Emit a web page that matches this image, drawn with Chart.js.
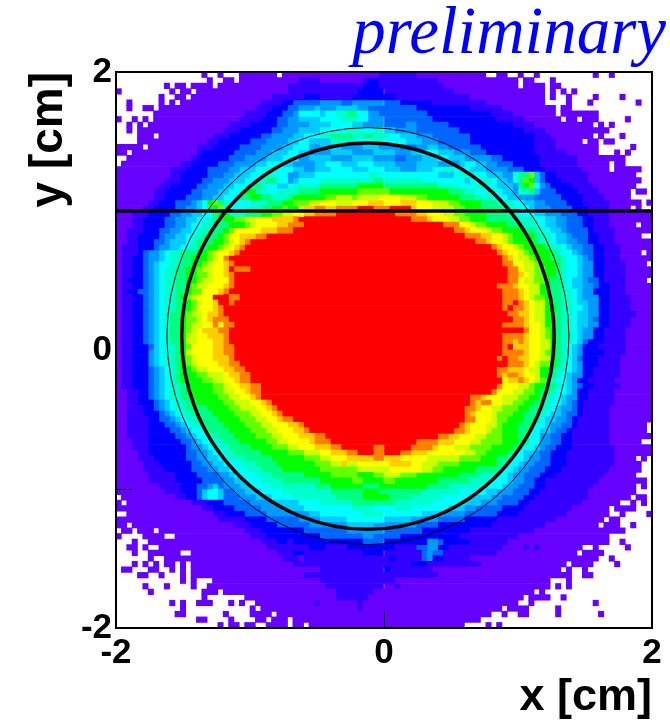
<!DOCTYPE html>
<html>
<head>
<meta charset="utf-8">
<style>
  html, body { margin: 0; padding: 0; background: #fff; }
  canvas { display: block; }
</style>
<script src="https://cdn.jsdelivr.net/npm/chart.js@4"></script>
</head>
<body>
<canvas id="beamChart" width="670" height="720"></canvas>
<script>
// colour level of each bin, w = empty bin
const levelNames = ['a','b','c','d','e','f','g','h','i','j','k','l','m','n','o','p'];
const levelColors = ['#6600ff','#3300ff','#0000ff','#0066ff','#0099ff','#00ccff','#00ffff','#00ffcc','#00ff80','#00ff00','#66ff00','#ccff00','#ffff00','#ffcc00','#ff8000','#ff0000'];

// one string per row of bins, top row first. letter + column where that level starts
const binRows = [
'w0a16w17a19w20a23w30a31b49a56w69a71w73a75w76a78w79a89w90a92w93',
'w0a17w18a20w22a23b34a38b46c47b49a60w75a76w78a81w82',
'w0a9w10a11w13a14w18a19b32c46b49a61w75a76w80a81w83',
'a0w1a10w11a12w14a15b32c45b50a63w80a81w82a83w84a85w86',
'w0a8w9a11w13a14b29c35b38c44b52a66w80a81w82a84w85a89w90a94w95',
'w0a2w3a8w9a10w11a12b27c31d33e38d42e44d50c53b59a69w80a84w85a88w89a97w98',
'w0a2w3a5w7a8b26c29d32e34f37e38f41e45d47c56b66a72w82a83w85',
'w0a7b24c28d31e33g34f38g39h41i43g45e47d49c58b70a74w82a83w90',
'a0w1a3w4a5w6a7b23c27d30e32f34g38h42g45e47d50c59b71a76w83a84w86a87w90a95w96',
'w0a2w3a4w5a6b21c25d30e32f36g40f44e46d50e54d56c62b74a78w89a90w91a92w93',
'w0a2w3a4b20c23d29e31f34g38h43g46h48f50e52d56c64b76a80w92',
'w0a4w7a8b18c21d27e29f33g35h38i40h44i46h48g51f53e56d59c66b78a81w89a90w91a94w95',
'w0a4b17c19d25e28f32g34f36h40g45h48g50f54e57d60c66b78a82w87a88w90a91w93',
'a0w5a6b15c18d23e27f31g33e36f38e42f46e49d53e56f58e60d62c68b78a82w90a96w97',
'a0w2a3b15c16d22e26f29g32f34e36f40e44f48e52f55g57f60e63d66c69b78a84w90a93w94a95w96',
'w0a2b14c15d21e24f28g31e34f36e40f44e48d52e54f57g60f62e65d70c72b79a86w95',
'w0a1b12c14d19e22f26g28f31e33f37g39f42g45f48e52f56e60f64g65f67e69d71c74b79a86w92a93w95',
'a0b10c13d17e21f23g26h28g30f33e35f37g40f44g47f50e53f56g59h61g63f66e69d73c76b80a87w92a93w98',
'a0b10c12d17e20f22g25h27g29e32f34g37h47g49f60g63h64g67f69e72g74i75k77f78d79c80b82a88w97',
'a0b9c12d16e18f21g24h26i28g30e32f33g34h38i48h50g57f65g66h68g70f71e73g74i75k76j77f78d79c80b83a88w98',
'a0b8c10d15e17f20g22h24i26h27g28f30g32h33i38j45i50h60g64h67g69f71e74i75j76k77g78e79d80c81b85a89w97',
'a0b7c9d14e16f19g21h23j24h26g28h30i34j38k45j51i62h65g67h69g71f72e74h75i77f78d79c82b86a90w96a97w99',
'a0b7c9d13e16f18g20h22i23j25i27h29i32j33k39l41k44l45m49l53k56j58i64h67g70f73e75d78c83b87a91w96',
'a0b6c8d11e14f15g16j17k18i19h20g21h25i28j31k33l36m38l41m44n47m50n53m56l59k62j64i68h71g74f76e78d80c84b87a92w98a99',
'a0b5c7d11e13f15g16i17j18k19h20g21h24i27j29k31j32l34n35o37n39o41p45o48p51n55m56l59k63j65i68h72g75f77e78d81c85b88a92w96a97w98',
'a0b3c6d10e12f14g16i18j19h21i24j27k29l31m33n35o37p41o52n56m58l61k63j65i69h73g75f78e80d83c86b88a92',
'a0b3c5d9e11f13g15h17i18j20k22l24m26n29o33p34o55n58m59l62k64j66i69h74g78f80e82d84c87b89a92',
'a0b3c5d9e11f13g14h16i18j21k24l25m26n30o32p35o61m64l66k67j69i73h76g79f80e82d84c87b89a92w97a98',
'a0b2c5d8e10f12g14h15i17j20k21m22n27o30p33o63n65m66l69k70j72i76h78g80f81e83d84c88b89a93',
'a0b2c4d8e9f11g13h14i16j19k20m21n23o26p28o65n68m70l72k73j74i78h79g81f82e84d85c88b90a93w98',
'a0b2c4d7e9f10g13h14i15j18k20l21m22n23o24p25o67n69m70l72k73j74i78h79g81f82e84d86c88b90a93',
'a0b1c4d7e8f10g12h13i15j17k19l20m21n22o23p24o70n71m72l74k75j76i80h81g83f84e85d87c89b91a94',
'a0b1c4d5e6f8g9h10i12j15k17l18m19n21o22p23o71n72m73l75k76j77i81h82g83f85e86d87c89b91a94w98a99',
'a0b1c3d5e6f8g9h10i12j14k17l18m19o20p21o72n73m74l75k77j78i81h83g84f86e87d88c89b91a94',
'a0b1c3d5e6f7g8h10i12j14k16l17m18n20o21p22o72m74l76k78j79i82h83g84f86e87c89b91a95w99',
'a0b1c3d5e6f7g8h9i11j13k15l16m18n20p21o22p25o73m75l76k78j80i82h83g84f86e87c89b91a95',
'a0b1c3d5e6f7g8h9i11j13k15l17m18n20o21p22o73n75m76l77k78j80i82h83g84f86e87c89b91a95',
'a0b1c2d5e6f7g8h9i11j13k15l16m18o21p22o73m75l76k78j80i81h83g84f85e87d88c90b91a95w99',
'a0b1c3d5e6f7g8h9i11j13k14l15m17n20o21p22o71n74m75l77j79i81h83g84f85e87d89c90b92a95',
'a0b1c2d4e6f7g8h9i11j13k14m16n19o20p21o72n75m76l77j79i81h83g85f86e87c89b92a95',
'a0b1c3d5e6f7g8h9i11j12k13l14m15n18p18o21p23o72n75m76l77k78j80i81h83g85f86e87c90b92a96',
'a0b1c3d5e6f7g8h9i11j13k14l15m16n18p19o21p22o72p74o75n76m77l78j80i81h83g85f86e88c90b92a96',
'a0b1c3d5e6f7g8h9i11j13k14m15n18o19p20o72p73o74n76m77l78j80i82h83g85f87e88c90b92a96',
'a0b1c3d5e6f7g8h9i10j12k13l14m16n17o19p20o73n75m77l78j80i81h83g85f86e88c90b92a97',
'a0b1c3d5e6f7g8h9i10j12k13l15m16n17o18p21o74n76m77l78j80i81h83g85f86e88d89c90b92a96',
'a0b1c3d5e6f7g8h9i10j12k13l14m16n18o18m19o20p22o72n76m77l79j80i81h83g85f86e88c90b92a96',
'a0b1c3d5e6f7g8h9i10j12k13l14m15n16o19p21o76m77l79k80j81i82h83g85f86e87c89b91a95',
'a0b1c3d5e6f7g8h9i10j12l13m15n17o20p21o72n76m77l79k80j81i82h83g85f86e87c89b91a95',
'a0b1c3d5e6f7g8h9i10j12l13m15n18o20p21o72n74o75n76m77l79j81i82h83g85f86d87c88b91a95',
'a0b1c3d6f7g8h9i11j12k13m14n18o20p22o72p73n74m77l79j81i82h83g84f85e86c87b90a95',
'a0b1c3d6e6f7g8h9i11j12l13m14n18o20p22o72n76m77l79k80j81i82h83g84f85e86c87b91a95',
'a0b1c3e6f7g8h9i11j12k13l14m15n18o21p22o71p72o73n75m77l79j81i82h83g84f85d86c87b90a94',
'a0b1c3e6f7g8h9i11j12k13l14m15n19o21p23o73n76m77l78k79j81i82h83g84f85e86c87b90a94',
'a0b1c3d6e7f8g9h10i11j12k14l15m17n20o22p24o71n73m76l77j79i81h82g84f85e86c87b89a94',
'a0b1c3d6e7f8g9h10i11j12k15l17m20n21o23p25o71n72o73n75m76l78j79i81h82g83f84e85c87b89a94',
'a0b1c3d6e7f8g9h10i11j12k16l18m20n22o23p25m72n73o75n76m77l78k79i80h81g82f84e85c86b88a93',
'a0b1c3d6e7f8g9h10i12j13k18l20m21n23o25p27o71m72l75k77j78i80h82g83f84e85d86c87b89a94',
'a0b2c4d6e7f8g9h10i12j13k18l20m22n24o25p27o70m71l74k76j78i79h81g82f84e85c86b88a93',
'a0b2c4d6e7f8g9h10i12j14k19l21m23n25o26p27o66n68m69l72k75j77i79h80g82f83e84c86b88a93',
'a0b2c4d7e8f9g10h11i13j15k20l22m25n27o28p29o66n67o68m70l72k74j76i78h80g81f83e84d85c86b87a93',
'a0b2c5d7e8f9g10h11i13j17k21l23m26n28o29p30o65n67m68l70k72j75i77h79g81f82e83d85c86b87a92',
'a0b2c5d8e9f10g11h12i14j18k22l25m27n29o30p31o65n66m67l70k71j74i76h78g80f81e83d84c86b87a92',
'a0b2c6d8e10f11g12h13i15j19k23l26m28n30o31p33o65m67l70k71j73i76g79f80e82d84c85b86a92',
'a0b2c6d9e11f12g13h14i16j20k24l27m29n32o34p35o64n65m66l69k71j72i75g78f80e81d83c85b86a92w99',
'a0b2c6d10e12f13g14h16i17j21k25l28m30n33o35p36o63n65m66l69k70j72i75h77g78f79e81d82c84b85a92w99',
'a0b2c6d11e13f14g15h17i19j22k26l29m31n34o37p39o60n62m64l67k69j72i75g77e79d81c83b85a92',
'a0b3c6d12e14f15g16h18i20j23k28l30m32n36o37p40o56n60m63l66k68j72i75g77e79d81c83b85a92w98',
'a0b3c6d13e14f16g17h19i21j25k29l32m34n37o40p42o48p50o55n59m60l63k66j70i74h75g76f78e79d80c82b85a93',
'a0b4c6d13e15f17g18h20i22j27k32l35m38n40o43p45o48p50o53n55m58l65k67j69i73h74g75f76e78d79c81b84a93',
'a0b4c7d13e15f17g19h21i24j29k35l38m40n43o48n50m53l58k64j68i71h73g74f76e77d79c81b84a93w97a98w99',
'a0b5c8d14e16f18g20h23i26j30k37l40n42l43m45n51m55l57k60j64i71h72g73f75e76d78c81b84a93w98',
'a0b5c9d14e17f19g21h24i27j31k38l45m51l57k59j61i67h71g72f74e75d77c80b83a92w98',
'a0b6c11d15e19f21g22h26i29j35k40j45k48l50k53j56i64h68g71f73e74d76c79b82a91w97',
'a0b6c11d16e20f22g24h27i31j38k44j46k50j52i60h66g70f73e74d76c78b80a90w99',
'a0b8c12d15e17f18d19e20f23g25h29i37j40i46j49i58h62g68f72e73d75c78b80a89w97a98w99',
'a0b9c12d15f16g17f19d20e22f24g27h31i40j46i49h57g64f69e71d74c77b79a88w97',
'w0a1b11c13d15f16g17f19d20e23f26g29h33i41j46i51h55g61f66e70d72c76b78a88w96a97w99',
'a0w1a2b14c17d20e25f29g34h38i44h52g59f65e68d71c75b77a87w94a96w97a98w99',
'a0b16c18d22e27f31g35h44g48h52g55f62e65d67c72b76a85w92a93w97',
'w0a2b18c20d24e28f36g38h46g50f57e61d65c71b75a84w92a94w95a99',
'a0b19c24d28e34f38g43f50e55d60c65b71a82w91a92w94',
'a0w2a3b22c25d30e36f43e48d56c60b70a80w90a91w94a96w97',
'w0a1w3a4w7a8b24c27d35e43d50c57b66a78w95',
'a0w1a5w9a11b25c28d38e46d48c53b64a75w92',
'w0a3w4a6b27c30b32c33d46c50e58d60c61b66a73w92a94w95',
'w0a2w4a5w6a8b28c36b39c43b52d56e58c60b62a72b76a77b78a79w87a89w90a95w96',
'w0a3w4a6w12a14b30c33b35c46b50d57e58d59b61a71w86a87w91',
'w0a6w7a9b31a34b35c51b52d57e58c59b61a66w90a92w93',
'w0a3w4a5w6a7w8a9w11a12w13a14b33c55b58a68w84a85w89a93w94',
'w0a1w3a6w8a10w11a12w13a14b38c50b51a59w83a84w85a87w88',
'w0a4w6a8w9a12w13a14b35a60w85a87w89',
'w0a12w13a14w15a18b38a52w81a84w85',
'w0a5w6a9w10a14w15a17b39a50b52a53w81a82w83a84w85',
'w0a6w7a16w19a20b41a48w78a79w80',
'w0a16w17a24b41a47w76a77w81a83w84',
'w0a10w11a12w13a15w18a21w22a23w24a26b37a38b45a46w75a77w78a89w90',
'w0a12w13a25w26a27b45a46w72a73w77a82w83',
'w0a11w13a20w21a25w29a30w70a72w73a75w77a82w83a90w91',
'w0a15w17a21w22a26w28a29w32a33w68',
'w0a19w20a21w23a24w26a28w32a33w35a36w65a69w70a71w72'
];

const binWidth = 0.04;
const axisMin = -2;
const axisMax = 2;
const axisStep = 2;
const cutLevel = [1, 1];          // horizontal line y = 1
const circleCenterX = -0.12;
const circleCenterY = 0.10;
const circleRadii = [1.39, 1.5];
const circleWidths = [3.5, 1];

const chartTitle = 'preliminary';
const xLabel = 'x [cm]';
const yLabel = 'y [cm]';

function parseRow(row) {
  const tokens = [...row.matchAll(/([a-pw])(\d+)/g)];
  return tokens.map((t, i) => ({
    level: t[1],
    from: +t[2],
    to: i + 1 < tokens.length ? +tokens[i + 1][2] : 100
  })).filter(r => r.level !== 'w' && r.to > r.from);
}

const parsedRows = binRows.map(parseRow);
const maxRuns = Math.max(...parsedRows.map(r => r.length));

// floating bars: the n-th dataset holds the n-th run of every row
const barSets = [];
for (let n = 0; n < maxRuns; n++) {
  barSets.push({
    type: 'bar',
    indexAxis: 'y',
    xAxisID: 'x',
    yAxisID: 'rows',
    order: 2,
    barPercentage: 1,
    categoryPercentage: 1,
    grouped: false,
    data: parsedRows.map(r => r[n] ? [axisMin + r[n].from * binWidth, axisMin + r[n].to * binWidth] : null),
    backgroundColor: parsedRows.map(r => r[n] ? levelColors[levelNames.indexOf(r[n].level)] : 'transparent')
  });
}

// the two fitted circles
const circlePlugin = {
  id: 'circles',
  afterDatasetsDraw(chart) {
    const ctx = chart.ctx;
    const xs = chart.scales.x;
    const ys = chart.scales.y;
    circleRadii.forEach((r, i) => {
      const cx = xs.getPixelForValue(circleCenterX);
      const cy = ys.getPixelForValue(circleCenterY);
      const rx = xs.getPixelForValue(circleCenterX + r) - cx;
      const ry = cy - ys.getPixelForValue(circleCenterY + r);
      ctx.save();
      ctx.beginPath();
      ctx.ellipse(cx, cy, rx, ry, 0, 0, Math.PI * 2);
      ctx.lineWidth = circleWidths[i];
      ctx.strokeStyle = '#000';
      ctx.stroke();
      ctx.restore();
    });
  }
};

const tickFont = { family: '"Liberation Sans"', weight: 'bold', size: 35 };
const frame = { display: true, color: '#000', width: 2, z: 2 };

new Chart(document.getElementById('beamChart').getContext('2d'), {
  type: 'bar',
  data: {
    labels: binRows.map((r, i) => i),
    datasets: [{
      type: 'scatter',
      indexAxis: 'x',
      xAxisID: 'x',
      yAxisID: 'y',
      order: 1,
      showLine: true,
      pointRadius: 0,
      borderColor: '#000',
      borderWidth: 3.5,
      data: [{ x: axisMin, y: cutLevel[0] }, { x: axisMax, y: cutLevel[1] }]
    }, ...barSets]
  },
  plugins: [circlePlugin],
  options: {
    indexAxis: 'y',
    responsive: false,
    animation: false,
    events: [],
    layout: { padding: { right: 4 } },
    plugins: {
      legend: { display: false },
      tooltip: { enabled: false },
      title: {
        display: true,
        text: chartTitle,
        align: 'end',
        color: '#0000ff',
        font: { family: '"Liberation Serif"', style: 'italic', weight: 'normal', size: 67, lineHeight: 1 },
        padding: { top: 2, bottom: 3 }
      }
    },
    scales: {
      rows: { type: 'category', axis: 'y', display: false, offset: true, grid: { display: false } },
      x: {
        type: 'linear',
        position: 'bottom',
        min: axisMin,
        max: axisMax,
        offset: false,
        afterFit: s => { s.height = 92; s.paddingLeft = 0; s.paddingRight = 0; },
        ticks: { stepSize: axisStep, color: '#000', font: tickFont, padding: 20, maxRotation: 0, autoSkip: false },
        grid: { drawOnChartArea: false, tickLength: -16, color: '#000', z: 1 },
        border: frame,
        title: { display: true, text: xLabel, align: 'end', color: '#000', font: { family: '"Liberation Sans"', weight: 'bold', size: 45, lineHeight: 1 }, padding: { top: 0, bottom: 0 } }
      },
      y: {
        type: 'linear',
        position: 'left',
        min: axisMin,
        max: axisMax,
        offset: false,
        afterFit: s => { s.width = 116; s.paddingTop = 0; s.paddingBottom = 0; },
        ticks: { stepSize: axisStep, color: '#000', font: tickFont, padding: 20 },
        grid: { drawOnChartArea: false, tickLength: -16, color: '#000', z: 1 },
        border: frame,
        title: { display: true, text: yLabel, align: 'end', color: '#000', font: { family: '"Liberation Sans"', weight: 'bold', size: 46, lineHeight: 1 }, padding: { top: 26, bottom: 0 } }
      },
      top: {
        type: 'linear',
        axis: 'x',
        position: 'top',
        min: axisMin,
        max: axisMax,
        afterFit: s => { s.height = 0; s.paddingLeft = 0; s.paddingRight = 0; },
        ticks: { display: false },
        grid: { display: false },
        border: frame
      },
      right: {
        type: 'linear',
        axis: 'y',
        position: 'right',
        min: axisMin,
        max: axisMax,
        afterFit: s => { s.width = 14; s.paddingTop = 0; s.paddingBottom = 0; },
        ticks: { display: false },
        grid: { display: false },
        border: frame
      }
    }
  }
});
</script>
</body>
</html>
